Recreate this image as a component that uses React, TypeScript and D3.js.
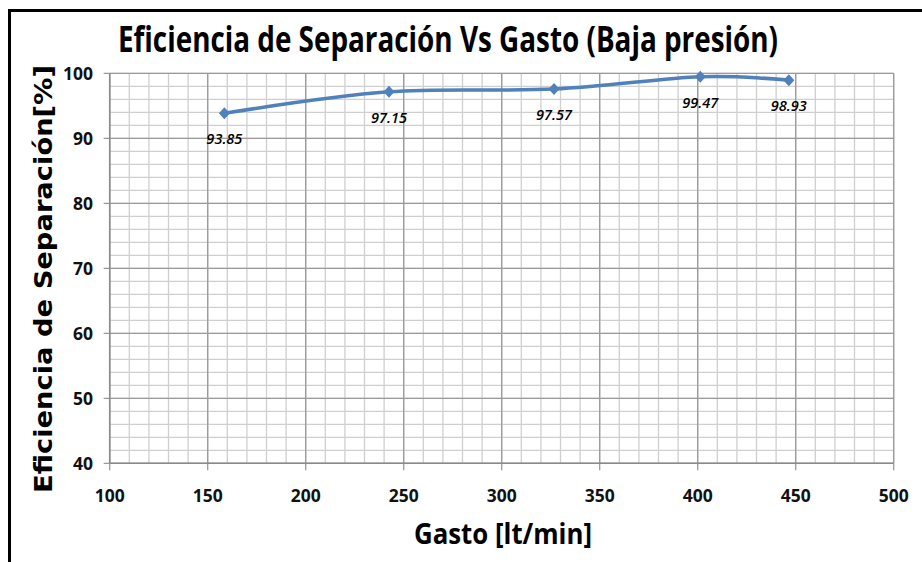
import React from "react";
import * as d3 from "d3";

const gasto = [158.5, 242.5, 326.7, 401.3, 446.5];
const eficiencia = [93.85, 97.15, 97.57, 99.47, 98.93];
const labels = ["93.85", "97.15", "97.57", "99.47", "98.93"];
const xTicks = [100, 150, 200, 250, 300, 350, 400, 450, 500];
const yTicks = [40, 50, 60, 70, 80, 90, 100];

const W = 922;
const H = 562;
const x = d3.scaleLinear().domain([100, 500]).range([109.7, 893.7]);
const y = d3.scaleLinear().domain([40, 100]).range([463.3, 73.3]);

export default function App() {
  const xMinor = d3.range(100, 501, 10);
  const yMinor = d3.range(40, 101, 2);
  const pts = gasto.map((g, i) => [x(g), y(eficiencia[i])] as [number, number]);
  const line = d3.line().curve(d3.curveCardinal.tension(0))(pts) || "";
  const font = "'Open Sans', sans-serif";
  return (
    <svg width={W} height={H} style={{ position: "absolute", left: 0, top: 0, background: "#fff" }}>
      <rect x={0} y={0} width={W} height={H} fill="#fff" />
      <rect x={9.5} y={10.5} width={W + 20} height={H + 20} fill="none" stroke="#000" strokeWidth={3} />
      {/* minor grid */}
      {xMinor.map((v) => (
        <line key={"xm" + v} x1={x(v)} x2={x(v)} y1={y(100)} y2={y(40)} stroke="#cfcfcf" strokeWidth={1.3} />
      ))}
      {yMinor.map((v) => (
        <line key={"ym" + v} x1={x(100)} x2={x(500)} y1={y(v)} y2={y(v)} stroke="#cfcfcf" strokeWidth={1.3} />
      ))}
      {/* major grid */}
      {xTicks.map((v) => (
        <line key={"xM" + v} x1={x(v)} x2={x(v)} y1={y(100)} y2={y(40) + 7} stroke="#9a9a9a" strokeWidth={1.3} />
      ))}
      {yTicks.map((v) => (
        <line key={"yM" + v} x1={x(100) - 6} x2={x(500)} y1={y(v)} y2={y(v)} stroke="#9a9a9a" strokeWidth={1.3} />
      ))}
      <line x1={x(100)} x2={x(100)} y1={y(100)} y2={y(40)} stroke="#8a8a8a" strokeWidth={1.5} />
      <line x1={x(100)} x2={x(500)} y1={y(40)} y2={y(40)} stroke="#8a8a8a" strokeWidth={1.5} />
      {/* tick labels */}
      {xTicks.map((v) => (
        <text key={"xl" + v} x={x(v)} y={501.5} textAnchor="middle" fontFamily={font} fontWeight="bold" fontSize={17.5} fill="#111" textLength={30} lengthAdjust="spacingAndGlyphs">
          {v}
        </text>
      ))}
      {yTicks.map((v) => (
        <text key={"yl" + v} x={93} y={y(v) + 6.5} textAnchor="end" fontFamily={font} fontWeight="bold" fontSize={17.5} fill="#111" textLength={String(v).length * 10} lengthAdjust="spacingAndGlyphs">
          {v}
        </text>
      ))}
      {/* series */}
      <path d={line} fill="none" stroke="#4F81BD" strokeWidth={3.5} />
      {pts.map(([px, py], i) => (
        <path key={"m" + i} d={`M${px},${py - 6}L${px + 5.5},${py}L${px},${py + 6}L${px - 5.5},${py}Z`} fill="#4F81BD" />
      ))}
      {pts.map(([px, py], i) => (
        <text key={"l" + i} x={px} y={py + 31} textAnchor="middle" fontFamily={font} fontStyle="italic" fontWeight={600} fontSize={15} fill="#000" textLength={36} lengthAdjust="spacingAndGlyphs">
          {labels[i]}
        </text>
      ))}
      {/* titles */}
      <g transform="translate(448,52) scale(0.8,1)">
        <text x={0} y={0} textAnchor="middle" fontFamily={font} fontWeight="bold" fontSize={35} fill="#000" textLength={825} lengthAdjust="spacingAndGlyphs">
          Eficiencia de Separación Vs Gasto (Baja presión)
        </text>
      </g>
      <text x={503} y={544} textAnchor="middle" fontFamily={font} fontWeight="bold" fontSize={28} fill="#000" textLength={178} lengthAdjust="spacingAndGlyphs">
        Gasto [lt/min]
      </text>
      <text transform="translate(52,279) rotate(-90)" textAnchor="middle" fontFamily="'DejaVu Sans', sans-serif" fontWeight="bold" fontSize={25} fill="#000" textLength={428} lengthAdjust="spacingAndGlyphs">
        Eficiencia de Separación[%]
      </text>
    </svg>
  );
}
